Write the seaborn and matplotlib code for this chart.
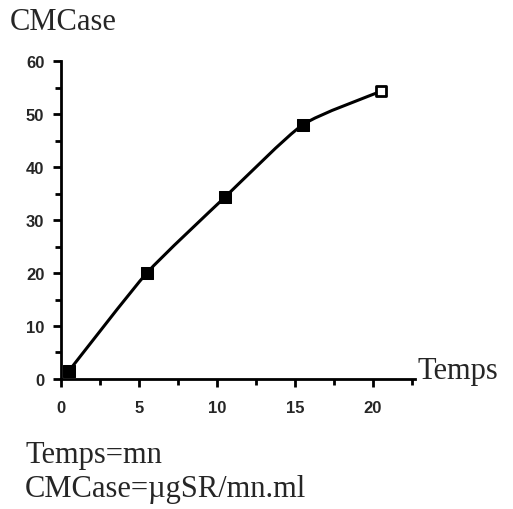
import matplotlib
matplotlib.use("Agg")
import matplotlib.pyplot as plt
import seaborn as sns
import pandas as pd
from matplotlib.path import Path
from matplotlib.patches import PathPatch
from matplotlib.ticker import MultipleLocator

temps = [0.5, 5.5, 10.5, 15.5, 20.5]
cmcase = [1.5, 20.0, 34.3, 48.0, 54.3]
x_ticks = [0, 5, 10, 15, 20]
y_ticks = [0, 10, 20, 30, 40, 50, 60]

df = pd.DataFrame({"Temps": temps, "CMCase": cmcase})

sns.set_style("ticks")
plt.rcParams["font.family"] = ["Liberation Sans", "DejaVu Sans"]

fig = plt.figure(figsize=(5.13, 5.10), dpi=100)
ax = fig.add_axes([0.119, 0.255, 0.690, 0.623])

# markers via seaborn (filled except the last one)
sns.scatterplot(data=df.iloc[:-1], x="Temps", y="CMCase", ax=ax, marker="s",
                s=85, color="black", edgecolor="black", zorder=3)
sns.scatterplot(data=df.iloc[-1:], x="Temps", y="CMCase", ax=ax, marker="s",
                s=50, color="white", edgecolor="black", linewidth=2, zorder=3)

# gently smoothed curve through the data points (low-tension Bezier segments)
xs, ys = list(df["Temps"]), list(df["CMCase"])
k = 10.0
verts = [(xs[0], ys[0])]
codes = [Path.MOVETO]
n = len(xs)
for i in range(n - 1):
    x0, y0 = (xs[i - 1], ys[i - 1]) if i > 0 else (xs[i], ys[i])
    x1, y1 = xs[i], ys[i]
    x2, y2 = xs[i + 1], ys[i + 1]
    x3, y3 = (xs[i + 2], ys[i + 2]) if i + 2 < n else (xs[i + 1], ys[i + 1])
    c1 = (x1 + (x2 - x0) / k, y1 + (y2 - y0) / k)
    c2 = (x2 - (x3 - x1) / k, y2 - (y3 - y1) / k)
    verts += [c1, c2, (x2, y2)]
    codes += [Path.CURVE4] * 3
ax.add_patch(PathPatch(Path(verts, codes), fc="none", ec="black", lw=2.2, zorder=2))

ax.set_xlim(0, 22.7)
ax.set_ylim(0, 60)
ax.set_xticks(x_ticks)
ax.set_yticks(y_ticks)
ax.xaxis.set_minor_locator(MultipleLocator(2.5))
ax.yaxis.set_minor_locator(MultipleLocator(5))
ax.tick_params(which="major", length=6, width=2, labelsize=12, pad=6, color="black")
ax.tick_params(axis="x", which="major", pad=9)
ax.tick_params(which="minor", length=4, width=2, color="black")
ax.set_xticklabels([str(v) for v in x_ticks])
ax.set_yticklabels([str(v) for v in y_ticks])
for lab in ax.get_xticklabels() + ax.get_yticklabels():
    lab.set_fontweight("bold")
ax.set_xlabel("")
ax.set_ylabel("")
for s in ["top", "right"]:
    ax.spines[s].set_visible(False)
for s in ["left", "bottom"]:
    ax.spines[s].set_linewidth(2)
    ax.spines[s].set_color("black")

serif = ["Liberation Serif", "DejaVu Serif"]
fs = 22
fig.text(10 / 513, 1 - 22 / 510, "CMCase", family=serif, fontsize=fs, va="center", ha="left")
fig.text(418 / 513, 1 - 372 / 510, "Temps", family=serif, fontsize=fs, va="center", ha="left")
fig.text(25 / 513, 1 - 455 / 510, "Temps=mn", family=serif, fontsize=fs, va="center", ha="left")
fig.text(25 / 513, 1 - 490 / 510, "CMCase=\u00b5gSR/mn.ml", family=serif, fontsize=fs, va="center", ha="left")

fig.savefig("out.png", dpi=100)
